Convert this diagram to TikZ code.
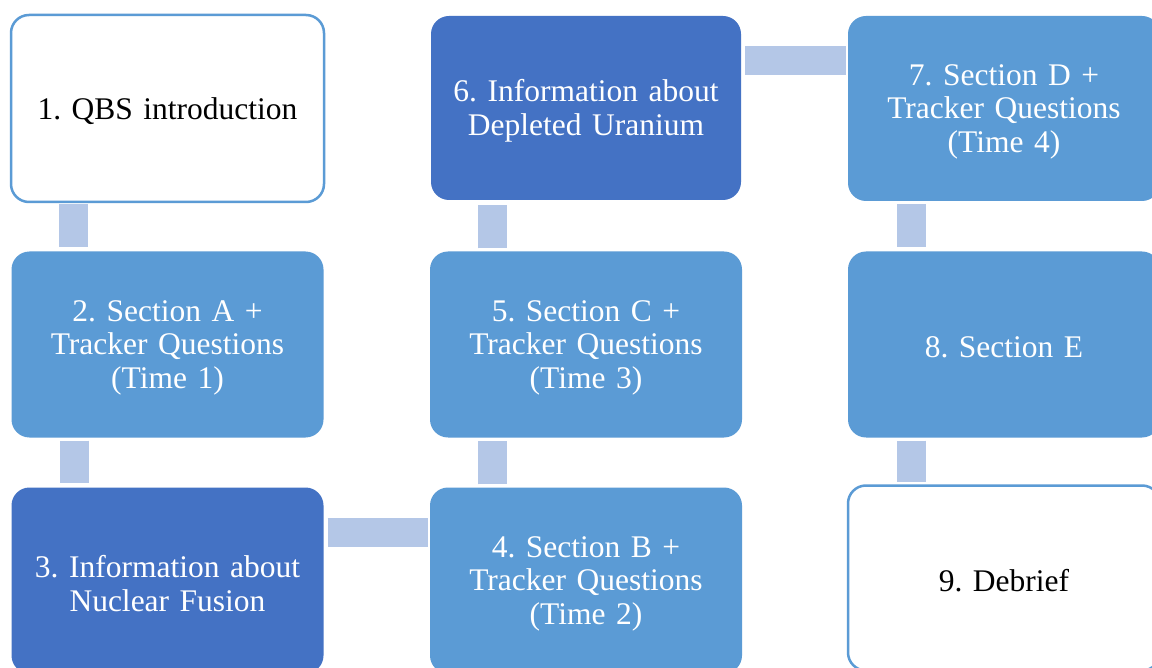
\documentclass[tikz,border=0pt]{standalone}
\usepackage{fontspec}
\setmainfont{Liberation Serif}
\frenchspacing
\definecolor{midblue}{HTML}{5B9BD5}
\definecolor{darkblue}{HTML}{4472C4}
\definecolor{lightblue}{HTML}{B4C7E7}
\begin{document}
\begin{tikzpicture}[x=1pt,y=1pt,
  box/.style={rectangle, rounded corners=18pt, minimum width=312pt, minimum height=186pt, inner sep=0pt},
  whitebox/.style={box, draw=midblue, line width=2.5pt, fill=white},
  midbox/.style={box, fill=midblue},
  darkbox/.style={box, fill=darkblue},
  txt/.style={inner sep=0pt, align=center, text width=300pt, yshift=-3pt,
    font=\fontsize{31.5pt}{33.5pt}\selectfont},
  wtxt/.style={txt, text=white},
  btxt/.style={txt, text=black},
  conn/.style={draw=lightblue, line width=29pt, line cap=butt}]
\useasboundingbox (0,0) rectangle (1152,-668);
\clip (0,0) rectangle (1152,-668);
\fill[white] (0,0) rectangle (1152,-668);
\node[whitebox, minimum width=313pt, minimum height=187pt] (b1) at (167.5,-108.5) {};
\node[midbox] (b2) at (167.5,-344.5) {};
\node[darkbox] (b3) at (167.5,-580.5) {};
\node[midbox] (b4) at (586,-580.5) {};
\node[midbox] (b5) at (586,-344.5) {};
\node[darkbox, minimum width=310pt, minimum height=184pt] (b6) at (586,-108) {};
\node[midbox, minimum height=185pt] (b7) at (1004,-108.5) {};
\node[midbox] (b8) at (1004,-344.5) {};
\node[whitebox, minimum height=185pt] (b9) at (1004,-578) {};
\node[btxt] (t1) at (b1) {1. QBS introduction};
\node[wtxt] (t2) at (b2) {2. Section A +\\Tracker Questions\\(Time 1)};
\node[wtxt] (t3) at (b3) {3. Information about\\Nuclear Fusion};
\node[wtxt] (t4) at (b4) {4. Section B +\\Tracker Questions\\(Time 2)};
\node[wtxt] (t5) at (b5) {5. Section C +\\Tracker Questions\\(Time 3)};
\node[wtxt] (t6) at (b6) {6. Information about\\Depleted Uranium};
\node[wtxt] (t7) at (b7) {7. Section D +\\Tracker Questions\\(Time 4)};
\node[wtxt] (t8) at (b8) {8. Section E};
\node[btxt] (t9) at (b9) {9. Debrief};
% vertical connectors
\draw[conn, shorten <=1pt, shorten >=4pt] ([xshift=64pt]b1.south west) coordinate (c12) -- (c12 |- b2.north);
\draw[conn, shorten <=3pt, shorten >=4pt] ([xshift=63pt]b2.south west) coordinate (c23) -- (c23 |- b3.north);
\draw[conn, shorten <=3pt, shorten >=3pt] ([xshift=62.5pt]b4.north west) coordinate (c45) -- (c45 |- b5.south);
\draw[conn, shorten <=3pt, shorten >=5pt] ([xshift=62.5pt]b5.north west) coordinate (c56) -- (c56 |- b6.south);
\draw[conn, shorten <=3pt, shorten >=4pt] ([xshift=63.5pt]b7.south west) coordinate (c78) -- (c78 |- b8.north);
\draw[conn, shorten <=3pt, shorten >=2pt] ([xshift=63.5pt]b8.south west) coordinate (c89) -- (c89 |- b9.north);
% horizontal connectors
\draw[conn, shorten <=4pt, shorten >=2pt] ([yshift=-45pt]b3.north east) coordinate (c34) -- (c34 -| b4.west);
\draw[conn, shorten <=4pt, shorten >=2pt] ([yshift=-45pt]b6.north east) coordinate (c67) -- (c67 -| b7.west);
\end{tikzpicture}
\end{document}
